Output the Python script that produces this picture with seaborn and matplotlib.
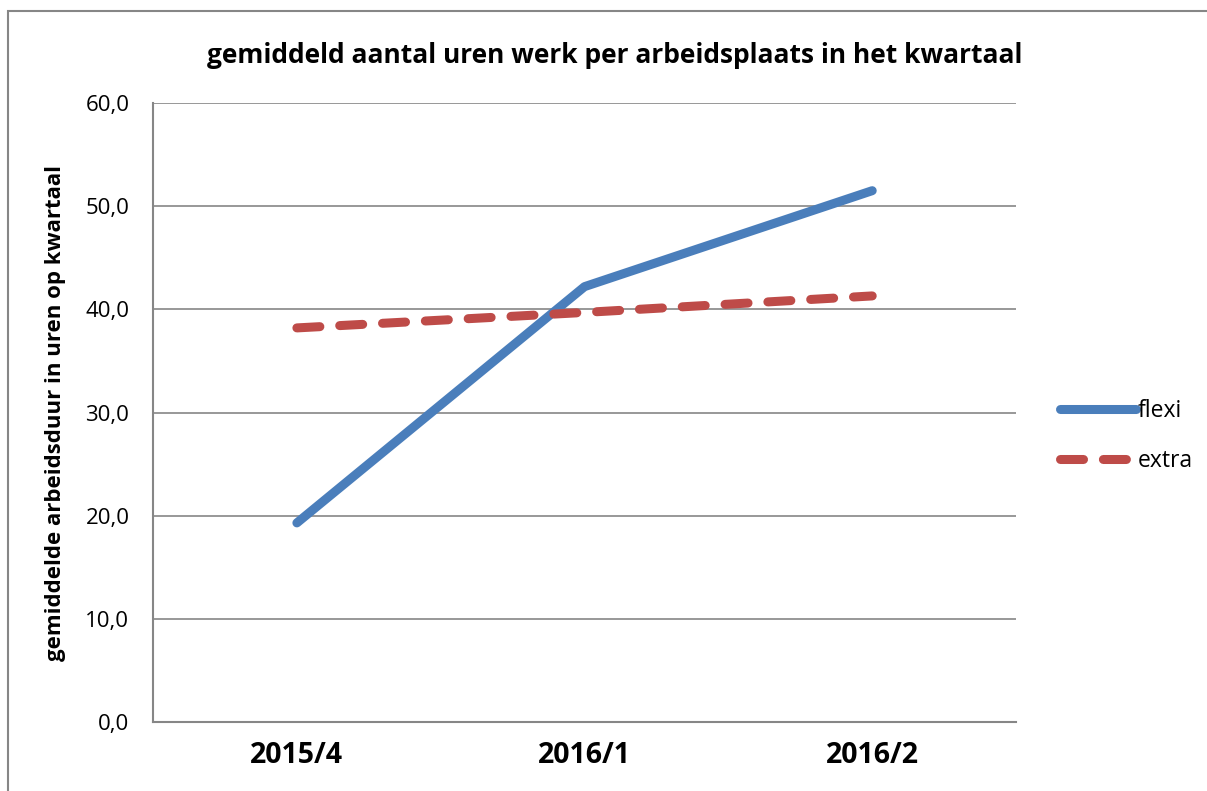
import matplotlib
matplotlib.use("Agg")
import matplotlib.pyplot as plt
import seaborn as sns
import pandas as pd
from matplotlib.patches import Rectangle

# data
kwartalen = ["2015/4", "2016/1", "2016/2"]
flexi = [19.3, 42.2, 51.5]
extra = [38.2, 39.7, 41.3]

df = pd.DataFrame({
    "kwartaal": kwartalen * 2,
    "uren": flexi + extra,
    "type": ["flexi"] * 3 + ["extra"] * 3,
})

sns.set_theme(style="white")
plt.rcParams['font.family'] = ['Open Sans', 'DejaVu Sans']
plt.rcParams['text.color'] = 'black'
plt.rcParams['axes.labelcolor'] = 'black'
plt.rcParams['xtick.color'] = 'black'
plt.rcParams['ytick.color'] = 'black'

fig = plt.figure(figsize=(12.07, 7.91), dpi=100)
ax = fig.add_axes([0.1268, 0.0872, 0.715, 0.7826])

# outer frame of the chart
fig.patches.append(Rectangle((8 / 1207, -0.1), 1.2, (791 - 11) / 791 + 0.1,
                             transform=fig.transFigure, fill=False,
                             edgecolor="#868686", linewidth=1.5))

sns.lineplot(data=df[df["type"] == "flexi"], x="kwartaal", y="uren", ax=ax,
             color="#4a7ebb", linewidth=6.5, solid_capstyle="round",
             solid_joinstyle="round", label="flexi")
sns.lineplot(data=df[df["type"] == "extra"], x="kwartaal", y="uren", ax=ax,
             color="#be4b48", linewidth=6.5, dashes=(2.55, 2.2),
             dash_capstyle="round", label="extra")

ax.set_xlim(-0.5, 2.5)
ax.set_ylim(0, 60)
ax.set_yticks(range(0, 61, 10))
ax.set_yticklabels([f"{v},0" for v in range(0, 61, 10)], fontsize=16)
ax.set_xticks(range(3))
ax.set_xticklabels(kwartalen, fontsize=20.5, fontweight="bold")
ax.tick_params(axis="x", pad=14, length=0)
ax.tick_params(axis="y", pad=17, length=0)
ax.grid(axis="y", color="#868686", linewidth=1.2)
ax.set_axisbelow(True)

for s in ["top", "right"]:
    ax.spines[s].set_visible(False)
for s in ["left", "bottom"]:
    ax.spines[s].set_color("#868686")
    ax.spines[s].set_linewidth(1.5)

ax.set_xlabel("")
ax.set_ylabel("gemiddelde arbeidsduur in uren op kwartaal", fontsize=16,
              fontweight="bold", labelpad=14)
fig.text(0.509, 0.93, "gemiddeld aantal uren werk per arbeidsplaats in het kwartaal",
         ha="center", va="center", fontsize=19, fontweight="bold")

leg = ax.legend(loc="center left", bbox_to_anchor=(1.027, 0.462), frameon=False,
                fontsize=16.5, handlelength=3.3, handletextpad=0.1,
                labelspacing=1.1)

fig.savefig("out.png", dpi=100)
